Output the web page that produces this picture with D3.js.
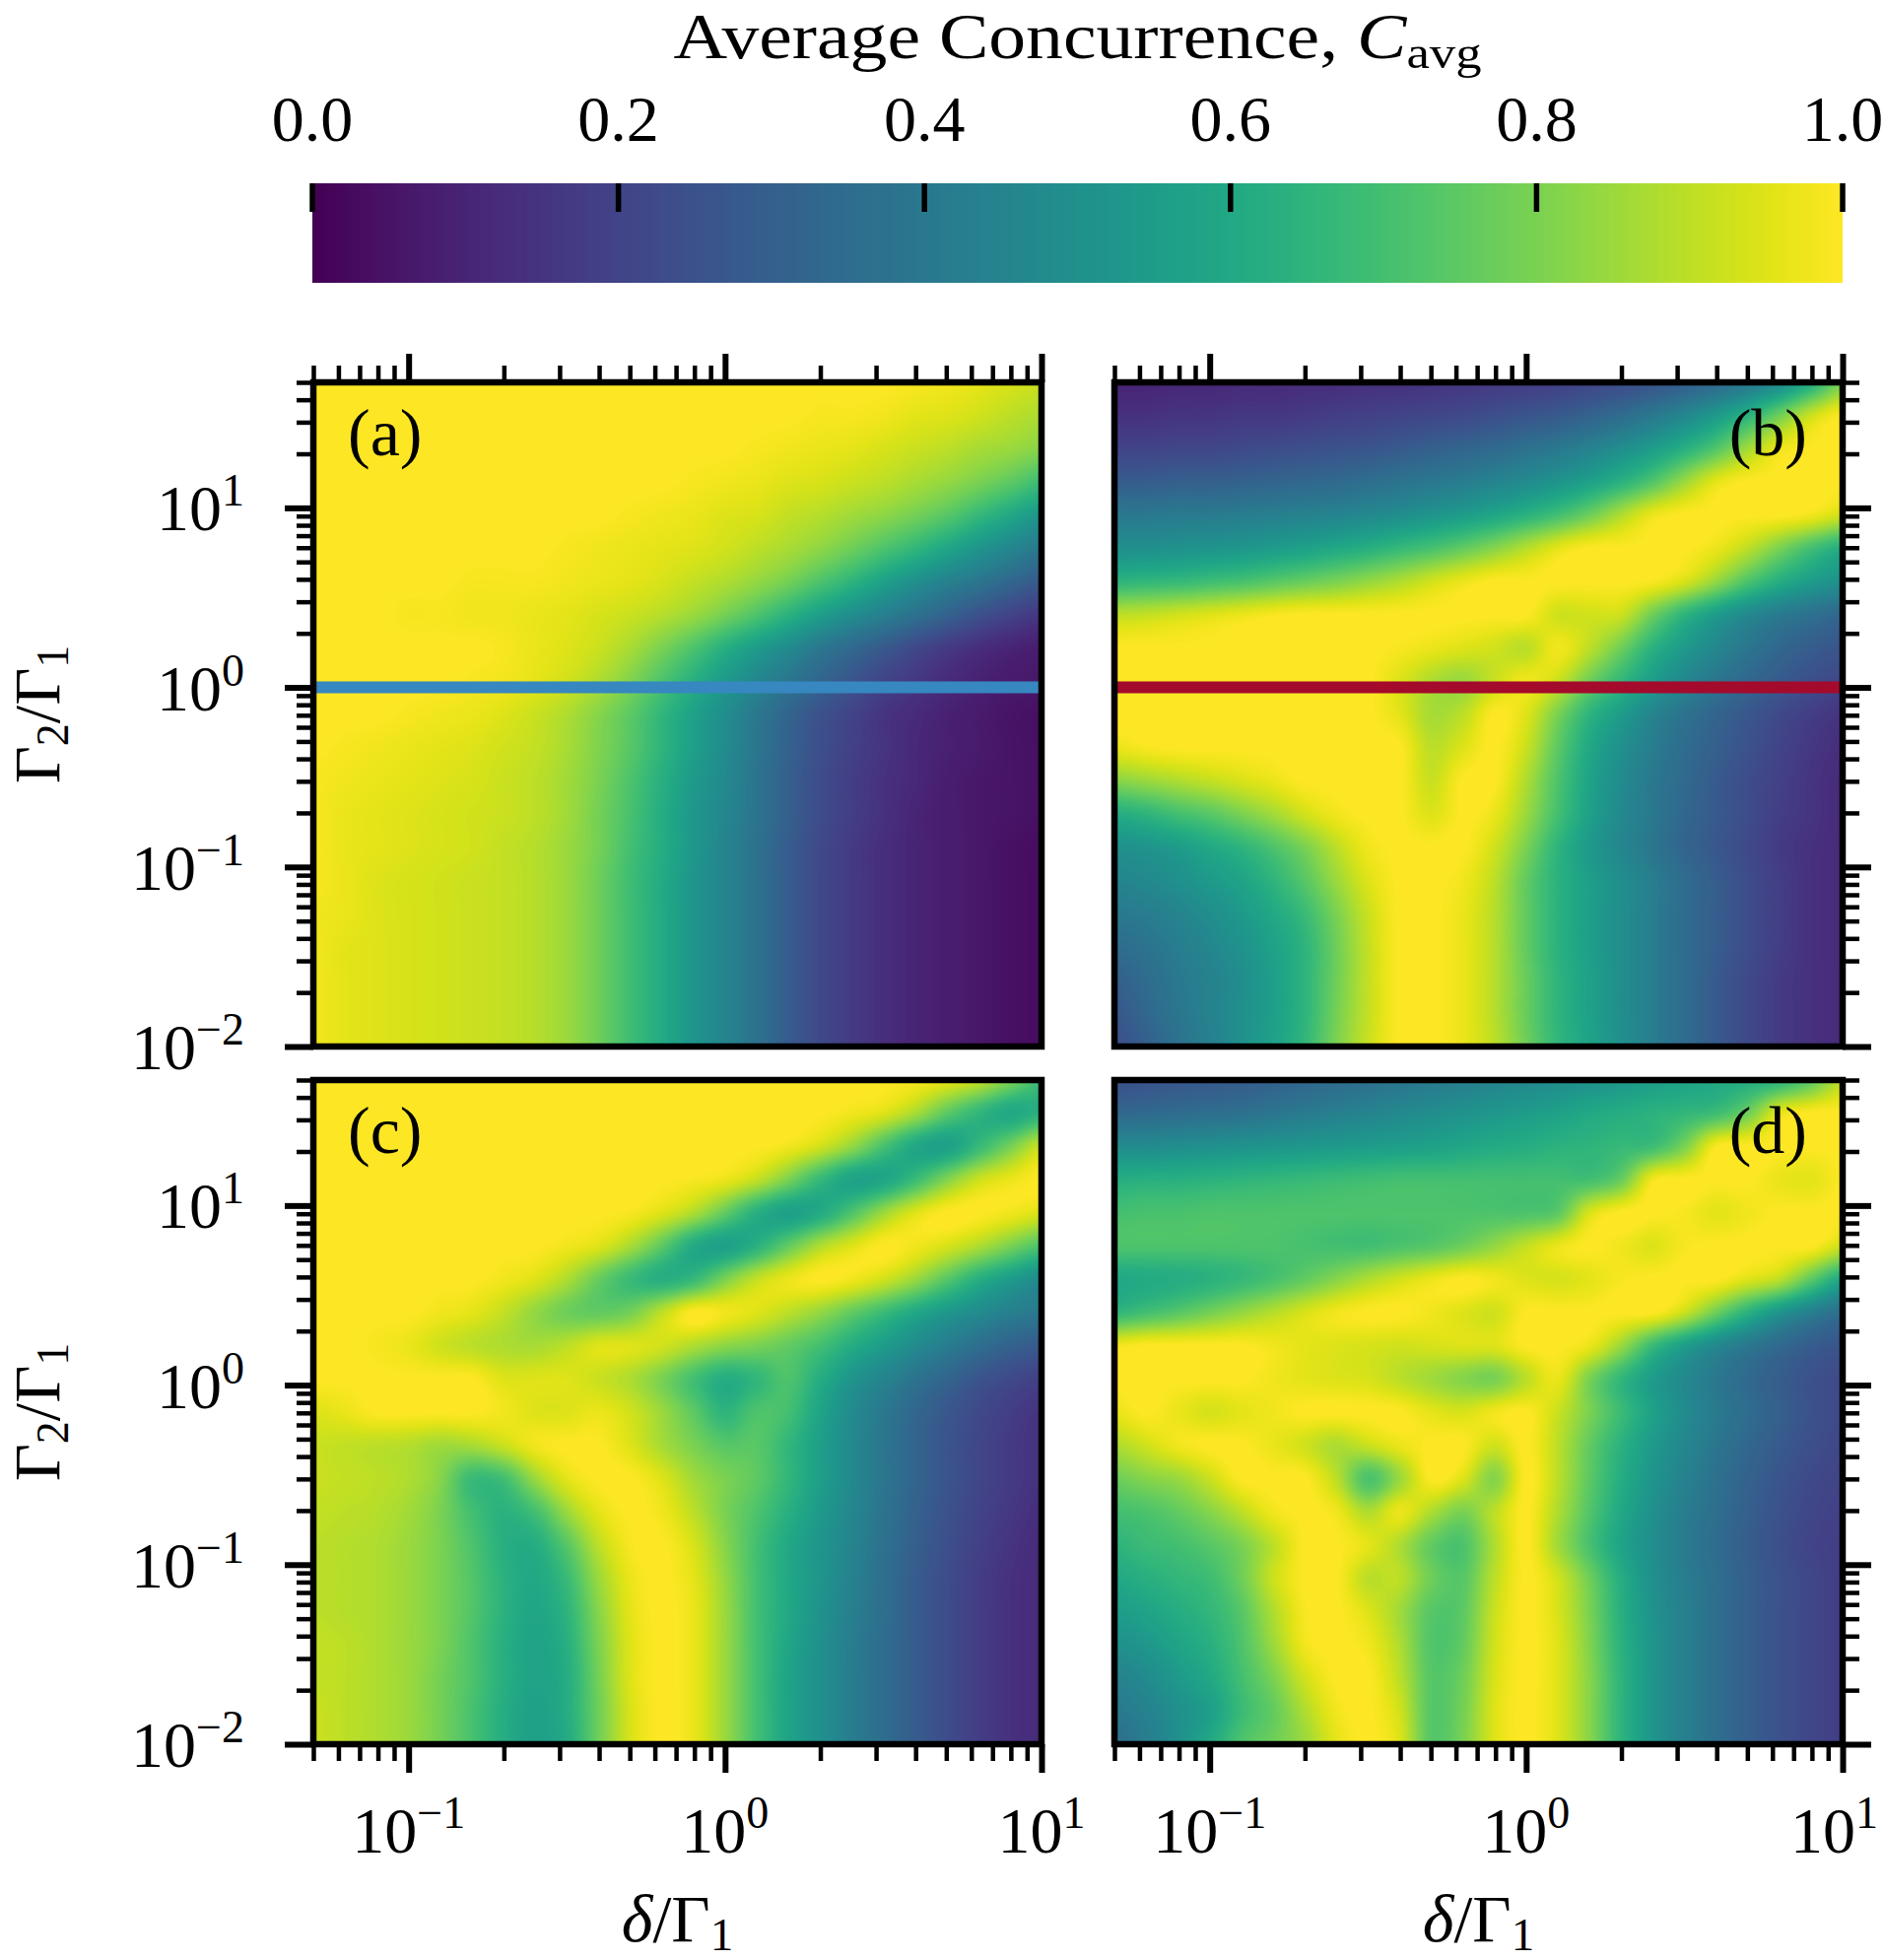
<!DOCTYPE html>
<html>
<head>
<meta charset="utf-8">
<script src="https://cdn.jsdelivr.net/npm/d3@7"></script>
<style>
  body { margin: 0; background: #fff; }
  text { font-family: "Liberation Serif", "Times New Roman", serif; fill: #000; }
</style>
</head>
<body>
<svg id="fig" width="1912" height="1989"></svg>
<script>
const deltaLog = [-1.3,-1.2,-1.1,-1.0,-0.9,-0.8,-0.7,-0.6,-0.5,-0.4,-0.3,-0.2,-0.1,0.0,0.1,0.2,0.3,0.4,0.5,0.6,0.7,0.8,0.9,1.0];
const gammaLog = [1.7,1.515,1.33,1.145,0.96,0.775,0.59,0.405,0.22,0.035,-0.15,-0.335,-0.52,-0.705,-0.89,-1.075,-1.26,-1.445,-1.63,-1.815,-2.0];

// average concurrence, one row per gammaLog node, one column per deltaLog node
const concA = [
  [1,1,1,1,1,1,1,1,1,1,1,1,1,1,1,1,1,1,1,.99,.98,.96,.94,.92],
  [1,1,1,1,1,1,1,1,1,1,1,1,1,1,1,1,.99,.99,.98,.96,.95,.93,.9,.88],
  [1,1,1,1,1,1,1,1,1,1,1,1,1,1,.99,.98,.97,.96,.94,.92,.9,.87,.85,.82],
  [1,1,1,1,1,1,1,1,1,1,1,1,.99,.98,.97,.95,.94,.92,.9,.87,.84,.8,.75,.69],
  [1,1,1,1,1,1,1,1,1,1,.99,.98,.97,.95,.94,.91,.89,.86,.83,.79,.74,.67,.6,.53],
  [1,1,1,1,1,1,1,1,.99,.98,.97,.96,.95,.93,.9,.87,.83,.78,.72,.66,.59,.52,.46,.4],
  [1,1,1,1,1,.99,.99,.99,.98,.97,.96,.94,.91,.88,.84,.79,.72,.65,.57,.5,.44,.39,.33,.28],
  [1,1,1,.99,.99,.98,.98,.97,.96,.94,.92,.89,.85,.79,.72,.64,.56,.49,.43,.37,.31,.25,.2,.16],
  [1,1,1,1,1,1,.99,.97,.95,.92,.87,.8,.72,.63,.55,.48,.4,.34,.28,.22,.17,.13,.1,.08],
  [1,1,1,1,1,.99,.98,.96,.93,.88,.81,.72,.63,.54,.46,.39,.32,.26,.2,.16,.12,.09,.07,.06],
  [1,1,1,.99,.98,.97,.95,.92,.88,.82,.75,.66,.57,.49,.4,.32,.25,.2,.15,.12,.09,.07,.05,.04],
  [1,.99,.98,.97,.96,.95,.93,.91,.87,.81,.74,.65,.56,.48,.39,.31,.24,.19,.15,.11,.09,.07,.05,.04],
  [.99,.98,.97,.96,.95,.94,.92,.9,.86,.8,.72,.63,.54,.47,.38,.3,.23,.18,.14,.11,.08,.06,.05,.04],
  [.99,.97,.96,.95,.94,.93,.92,.9,.86,.79,.71,.62,.53,.46,.38,.3,.23,.18,.14,.1,.08,.06,.05,.04],
  [.99,.97,.96,.95,.94,.93,.91,.89,.85,.79,.7,.62,.53,.45,.37,.29,.22,.17,.13,.1,.08,.06,.04,.03],
  [.99,.97,.95,.94,.93,.92,.91,.89,.85,.78,.69,.61,.52,.45,.37,.29,.22,.17,.13,.1,.08,.06,.04,.03],
  [.98,.97,.95,.94,.93,.92,.91,.89,.85,.78,.69,.61,.52,.45,.37,.29,.22,.17,.13,.1,.08,.06,.04,.03],
  [.98,.96,.95,.94,.93,.92,.91,.89,.85,.78,.69,.61,.52,.45,.37,.29,.22,.17,.13,.1,.08,.06,.04,.03],
  [.98,.96,.95,.94,.93,.92,.91,.89,.85,.78,.69,.61,.52,.45,.37,.29,.22,.17,.13,.1,.08,.06,.04,.03],
  [.98,.96,.95,.94,.93,.92,.91,.89,.85,.78,.69,.61,.52,.45,.37,.29,.22,.17,.13,.1,.08,.06,.04,.03],
  [.98,.96,.95,.94,.93,.92,.91,.89,.85,.78,.69,.61,.52,.45,.37,.29,.22,.17,.13,.1,.08,.06,.04,.03]
];

const concB = [
  [.10,.10,.11,.11,.12,.12,.13,.13,.14,.14,.15,.16,.17,.18,.19,.21,.23,.26,.30,.34,.40,.48,.62,.80],
  [.14,.14,.15,.15,.16,.16,.17,.18,.19,.20,.21,.22,.24,.26,.28,.31,.35,.40,.46,.54,.64,.78,.92,1],
  [.20,.20,.21,.21,.22,.23,.24,.25,.26,.28,.30,.32,.34,.37,.40,.44,.49,.55,.63,.73,.86,.97,1,1],
  [.29,.29,.30,.30,.31,.32,.33,.34,.36,.38,.40,.42,.45,.48,.52,.57,.64,.73,.85,.96,1,1,1,1],
  [.40,.40,.41,.41,.42,.43,.44,.45,.47,.49,.52,.55,.59,.64,.70,.78,.88,.97,1,1,1,1,.98,.93],
  [.50,.50,.51,.52,.53,.55,.57,.60,.63,.67,.71,.76,.82,.89,.96,1,1,1,1,.97,.90,.80,.70,.62],
  [.65,.66,.67,.69,.71,.74,.77,.80,.84,.88,.93,.97,1,1,1,1,1,.99,.94,.84,.72,.62,.55,.50],
  [.90,.91,.93,.95,.97,.99,1,1,1,1,1,1,1,1,.93,.93,.92,.78,.65,.55,.47,.41,.37,.33],
  [1,1,1,1,1,1,1,1,1,.99,.97,.95,.93,.9,.98,.9,.78,.64,.54,.46,.39,.33,.29,.26],
  [1,1,1,1,1,1,1,1,1,.95,.88,.85,.92,.98,.92,.78,.66,.55,.46,.39,.33,.28,.24,.21],
  [1,1,1,1,1,1,1,1,1,.96,.87,.9,1,.95,.8,.65,.55,.45,.38,.32,.27,.22,.18,.15],
  [.97,.99,1,1,1,1,1,1,1,1,.9,.95,1,.92,.75,.6,.5,.42,.35,.3,.25,.2,.16,.13],
  [.82,.85,.88,.91,.94,.97,1,1,1,1,.92,1,1,.88,.72,.58,.48,.4,.34,.28,.23,.19,.15,.12],
  [.62,.65,.7,.74,.8,.86,.93,.98,1,1,.95,1,.97,.85,.7,.57,.47,.4,.33,.28,.23,.18,.15,.12],
  [.5,.52,.55,.6,.65,.72,.8,.9,.98,1,1,1,.93,.8,.65,.54,.46,.39,.32,.27,.22,.17,.14,.12],
  [.45,.47,.5,.54,.58,.65,.74,.85,.95,1,1,.98,.9,.76,.64,.56,.49,.42,.35,.29,.23,.18,.14,.12],
  [.4,.42,.45,.49,.54,.6,.68,.8,.92,1,1,.97,.89,.76,.64,.56,.49,.42,.35,.29,.23,.18,.14,.12],
  [.35,.38,.42,.46,.51,.57,.65,.78,.91,1,1,.97,.89,.76,.64,.56,.49,.42,.35,.29,.23,.18,.14,.12],
  [.3,.35,.4,.44,.49,.56,.65,.78,.91,1,1,.97,.89,.77,.65,.57,.49,.42,.35,.28,.22,.17,.14,.12],
  [.27,.33,.39,.44,.5,.56,.65,.79,.91,1,1,.97,.89,.77,.65,.57,.49,.42,.35,.28,.22,.17,.14,.12],
  [.24,.3,.37,.43,.5,.57,.66,.8,.92,1,1,.97,.9,.78,.66,.58,.5,.42,.35,.28,.22,.17,.14,.12]
];

const concC = [
  [1,1,1,1,1,1,1,1,1,1,1,1,1,1,1,1,1,1,1,.99,.96,.91,.8,.68],
  [1,1,1,1,1,1,1,1,1,1,1,1,1,1,1,1,1,.98,.95,.87,.75,.66,.6,.64],
  [1,1,1,1,1,1,1,1,1,1,1,1,1,1,1,.98,.93,.84,.71,.6,.57,.67,.79,.92],
  [1,1,1,1,1,1,1,1,1,1,1,1,.99,.97,.91,.8,.67,.58,.59,.68,.81,.92,.97,1],
  [1,1,1,1,1,1,1,1,1,1,.99,.95,.88,.76,.63,.57,.61,.72,.85,.95,1,1,.98,.95],
  [1,1,1,1,1,1,1,1,.98,.95,.87,.75,.61,.57,.64,.76,.88,.95,1,.98,.94,.88,.8,.72],
  [1,1,1,1,1,1,.98,.95,.88,.77,.68,.63,.67,.8,.91,.97,1,.98,.93,.85,.74,.63,.55,.48],
  [1,1,1,1,.98,.96,.91,.84,.78,.76,.79,.9,1,.98,.95,.9,.84,.76,.68,.6,.53,.48,.43,.4],
  [1,1,.99,.97,.93,.9,.88,.87,.9,.95,.95,.93,.88,.83,.8,.76,.7,.62,.55,.48,.42,.36,.31,.28],
  [1,1,1,1,1,1,.95,.95,.95,.92,.88,.8,.7,.62,.66,.72,.62,.52,.45,.38,.32,.26,.22,.19],
  [.95,.97,1,1,1,1,.98,.95,.95,.97,.93,.85,.75,.65,.72,.7,.58,.48,.4,.33,.27,.22,.18,.15],
  [.92,.91,.9,.89,.86,.87,.92,.98,1,1,.95,.87,.8,.74,.74,.66,.56,.47,.39,.32,.26,.21,.17,.14],
  [.92,.91,.9,.88,.82,.68,.7,.85,.96,1,1,.95,.86,.8,.75,.66,.56,.47,.39,.32,.26,.21,.17,.14],
  [.91,.9,.89,.86,.8,.7,.64,.7,.85,.96,1,.98,.9,.8,.72,.63,.54,.46,.38,.31,.25,.2,.16,.13],
  [.9,.89,.88,.85,.8,.72,.63,.62,.74,.9,.99,1,.94,.82,.7,.6,.52,.45,.37,.3,.24,.19,.15,.12],
  [.9,.89,.88,.85,.8,.73,.64,.6,.68,.85,.97,1,.96,.84,.7,.6,.52,.44,.36,.29,.23,.18,.14,.12],
  [.9,.89,.88,.85,.8,.73,.64,.59,.65,.82,.96,1,.97,.85,.7,.6,.51,.43,.36,.29,.23,.18,.14,.12],
  [.91,.9,.88,.85,.8,.72,.63,.58,.63,.8,.95,1,.97,.85,.7,.59,.5,.42,.35,.29,.23,.18,.14,.12],
  [.91,.9,.88,.85,.79,.72,.63,.58,.62,.79,.95,1,.97,.85,.7,.58,.5,.42,.35,.29,.23,.18,.14,.12],
  [.92,.9,.88,.85,.79,.71,.62,.57,.62,.78,.94,1,.97,.85,.7,.58,.5,.42,.35,.29,.23,.18,.14,.12],
  [.92,.9,.88,.85,.79,.71,.62,.57,.61,.78,.94,1,.97,.85,.7,.58,.5,.42,.35,.29,.23,.18,.14,.12]
];

const concD = [
  [.25,.26,.27,.28,.29,.31,.33,.35,.37,.39,.41,.43,.45,.47,.49,.51,.53,.56,.58,.6,.62,.65,.75,.91],
  [.33,.34,.35,.36,.37,.39,.41,.43,.45,.47,.49,.51,.53,.55,.57,.6,.62,.64,.66,.69,.78,.96,1,1],
  [.48,.48,.49,.5,.51,.52,.53,.54,.55,.56,.57,.59,.61,.62,.64,.65,.67,.69,.8,.99,1,1,1,1],
  [.62,.63,.63,.64,.65,.66,.67,.68,.69,.7,.7,.7,.7,.7,.7,.7,.77,.98,1,1,1,.97,.96,1],
  [.7,.71,.71,.72,.72,.72,.72,.72,.72,.72,.72,.72,.72,.72,.75,.94,1,1,.99,.96,.98,1,1,1],
  [.72,.72,.72,.72,.72,.72,.71,.7,.7,.72,.74,.78,.84,.91,.97,1,.98,.95,.99,1,1,1,1,.93],
  [.6,.61,.62,.64,.67,.71,.76,.82,.88,.93,.97,1,.98,.95,.94,.96,.99,1,1,1,.95,.9,.75,.6],
  [.66,.7,.74,.79,.84,.89,.94,.98,1,1,.98,.95,.93,1,1,1,1,1,.92,.78,.64,.52,.43,.36],
  [.98,1,1,1,1,.98,.96,.95,.94,.93,.94,.95,.95,1,1,.97,.85,.68,.56,.47,.4,.34,.29,.26],
  [1,1,1,1,1,.98,.96,.95,.94,.9,.86,.82,.8,.9,.97,.8,.66,.55,.47,.4,.34,.29,.25,.22],
  [.97,1,.97,.94,.96,.98,1,1,1,1,.96,.94,.98,1,.92,.8,.68,.57,.48,.41,.35,.3,.25,.22],
  [.88,.93,.98,1,1,.97,.93,.88,.92,.97,1,1,.93,1,.9,.76,.64,.54,.46,.39,.33,.28,.24,.21],
  [.78,.82,.85,.92,1,1,1,.9,.72,.85,1,.95,.82,1,.9,.75,.62,.52,.44,.37,.31,.26,.22,.2],
  [.7,.72,.76,.82,.9,.98,1,.98,.88,.97,.88,.8,.9,1,.88,.73,.6,.5,.42,.36,.3,.25,.21,.19],
  [.65,.68,.7,.74,.8,.9,1,1,.96,.88,.76,.72,.88,1,.86,.71,.58,.49,.41,.35,.29,.24,.2,.18],
  [.6,.63,.66,.69,.78,.92,1,1,.9,.9,.78,.74,.9,1,.93,.78,.62,.5,.42,.36,.3,.25,.21,.18],
  [.55,.58,.62,.66,.74,.88,.99,1,.95,.86,.74,.75,.92,1,.94,.8,.63,.51,.43,.36,.3,.25,.21,.18],
  [.5,.53,.58,.63,.72,.85,.98,1,.98,.88,.73,.76,.93,1,.95,.81,.64,.52,.43,.36,.3,.25,.21,.18],
  [.44,.48,.54,.6,.7,.8,.93,1,1,.9,.74,.78,.94,1,.95,.82,.65,.52,.43,.36,.3,.25,.21,.18],
  [.4,.44,.5,.56,.68,.76,.88,.98,1,.93,.74,.79,.95,1,.95,.82,.65,.52,.43,.36,.3,.25,.21,.18],
  [.36,.42,.5,.6,.72,.78,.85,.96,1,.95,.74,.8,.95,1,.95,.82,.65,.52,.43,.36,.3,.25,.21,.18]
];

const panelGrids = [concA, concB, concC, concD];
const panelTags = ["(a)", "(b)", "(c)", "(d)"];
const cutLines = [{ panel: 0, gamma: 1, color: "#3787c0" }, { panel: 1, gamma: 1, color: "#a40a2c" }];

const cbarTicks = [0, 0.2, 0.4, 0.6, 0.8, 1.0];
const cbarLabels = ["0.0", "0.2", "0.4", "0.6", "0.8", "1.0"];
const xMajor = [0.1, 1, 10];
const xMajorExp = ["\u22121", "0", "1"];
const xMinor = [0.05,0.06,0.07,0.08,0.09,0.2,0.3,0.4,0.5,0.6,0.7,0.8,0.9,2,3,4,5,6,7,8,9];
const yMajor = [0.01, 0.1, 1, 10];
const yMajorExp = ["\u22122", "\u22121", "0", "1"];
const yMinor = [0.02,0.03,0.04,0.05,0.06,0.07,0.08,0.09,0.2,0.3,0.4,0.5,0.6,0.7,0.8,0.9,2,3,4,5,6,7,8,9,20,30,40,50];

// layout
const figW = 1912;
const colSpan = [[318, 1057], [1131, 1870]];
const rowSpan = [[388, 1062], [1096, 1770]];
const bigFont = 68, tickFont = 66, supFont = 46;

const svg = d3.select("#fig");
const lut = d3.range(256).map(k => d3.rgb(d3.interpolateViridis(k / 255)));

function fracIndex(arr, val) {
    const n = arr.length;
    if (val <= arr[0]) return 0;
    if (val >= arr[n - 1]) return n - 1;
    const k = d3.bisectRight(arr, val) - 1;
    return k + (val - arr[k]) / (arr[k + 1] - arr[k]);
}

function cubic(p0, p1, p2, p3, t) {
    return 0.5 * (2 * p1 + (p2 - p0) * t + (2 * p0 - 5 * p1 + 4 * p2 - p3) * t * t + (3 * p1 - p0 - 3 * p2 + p3) * t * t * t);
}

function stencil(f, n) {
    const i1 = Math.min(Math.floor(f), n - 2);
    const t = f - i1;
    return { idx: [Math.max(i1 - 1, 0), i1, i1 + 1, Math.min(i1 + 2, n - 1)], t };
}

function drawHeat(g, grid, x, y) {
    const [x0, x1] = x.range();
    const [yb, yt] = y.range();
    const w = Math.round(x1 - x0), h = Math.round(yb - yt);
    const canvas = document.createElement("canvas");
    canvas.width = w;
    canvas.height = h;
    const ctx = canvas.getContext("2d");
    const img = ctx.createImageData(w, h);
    const gammaAsc = gammaLog.slice().reverse();
    const nr = gammaLog.length, nc = deltaLog.length;

    const colSt = d3.range(w).map(px => stencil(fracIndex(deltaLog, Math.log10(x.invert(x0 + px + 0.5))), nc));
    for (let py = 0; py < h; py++) {
        const v = Math.log10(y.invert(yt + py + 0.5));
        const rs = stencil((nr - 1) - fracIndex(gammaAsc, v), nr);
        const rowVals = d3.range(nc).map(i => cubic(grid[rs.idx[0]][i], grid[rs.idx[1]][i], grid[rs.idx[2]][i], grid[rs.idx[3]][i], rs.t));
        for (let px = 0; px < w; px++) {
            const cs = colSt[px];
            let c = cubic(rowVals[cs.idx[0]], rowVals[cs.idx[1]], rowVals[cs.idx[2]], rowVals[cs.idx[3]], cs.t);
            c = Math.max(0, Math.min(1, c));
            const col = lut[Math.round(c * 255)];
            const o = (py * w + px) * 4;
            img.data[o] = col.r;
            img.data[o + 1] = col.g;
            img.data[o + 2] = col.b;
            img.data[o + 3] = 255;
        }
    }
    ctx.putImageData(img, 0, 0);
    g.append("image")
        .attr("x", x0).attr("y", yt)
        .attr("width", w).attr("height", h)
        .attr("preserveAspectRatio", "none")
        .attr("href", canvas.toDataURL());
}

function addTicks(g, axisFn, scale, values, size, width, transform) {
    g.append("g")
        .attr("transform", transform)
        .call(axisFn(scale).tickValues(values).tickSize(size).tickFormat(""))
        .call(s => s.select(".domain").remove())
        .call(s => s.selectAll("text").remove())
        .call(s => s.selectAll("line").attr("stroke", "#000").attr("stroke-width", width));
}

// ---- colour bar ----
const cScale = d3.scaleLinear().domain([0, 1]).range([317, 1870]);
const cbTop = 186, cbBottom = 287;
{
    const w = Math.round(cScale(1) - cScale(0));
    const canvas = document.createElement("canvas");
    canvas.width = w;
    canvas.height = 1;
    const ctx = canvas.getContext("2d");
    for (let i = 0; i < w; i++) {
        ctx.fillStyle = d3.interpolateViridis(cScale.invert(cScale(0) + i + 0.5));
        ctx.fillRect(i, 0, 1, 1);
    }
    svg.append("image")
        .attr("x", cScale(0)).attr("y", cbTop)
        .attr("width", w).attr("height", cbBottom - cbTop)
        .attr("preserveAspectRatio", "none")
        .attr("href", canvas.toDataURL());

    svg.append("g").selectAll("line")
        .data(cbarTicks)
        .enter()
        .append("line")
        .attr("x1", d => cScale(d)).attr("x2", d => cScale(d))
        .attr("y1", cbTop).attr("y2", cbTop + 29)
        .attr("stroke", "#000").attr("stroke-width", 5.5);

    svg.append("g").selectAll("text")
        .data(cbarTicks)
        .enter()
        .append("text")
        .attr("x", d => cScale(d)).attr("y", 143)
        .attr("text-anchor", "middle")
        .attr("font-size", tickFont)
        .text((d, i) => cbarLabels[i]);

    const title = svg.append("text")
        .attr("x", (cScale(0) + cScale(1)) / 2).attr("y", 59)
        .attr("text-anchor", "middle")
        .attr("font-size", 66)
        .attr("textLength", 820)
        .attr("lengthAdjust", "spacingAndGlyphs");
    title.append("tspan").text("Average Concurrence, ");
    title.append("tspan").attr("font-style", "italic").text("C");
    title.append("tspan").attr("font-size", 46).attr("dy", 10).text("avg");
}

// ---- panels ----
panelGrids.forEach((grid, k) => {
    const ci = k % 2, ri = Math.floor(k / 2);
    const [x0, x1] = colSpan[ci];
    const [y0, y1] = rowSpan[ri];
    const x = d3.scaleLog().domain([0.05, 10]).range([x0, x1]);
    const y = d3.scaleLog().domain([0.01, 50]).range([y1, y0]);
    const g = svg.append("g");

    drawHeat(g, grid, x, y);

    cutLines.filter(c => c.panel === k).forEach(c => {
        g.append("line")
            .attr("x1", x0).attr("x2", x1)
            .attr("y1", y(c.gamma)).attr("y2", y(c.gamma))
            .attr("stroke", c.color).attr("stroke-width", 12);
    });

    // ticks only on the outer sides of the grid
    if (ri === 0) {
        addTicks(g, d3.axisTop, x, xMajor, 29, 6, `translate(0,${y0})`);
        addTicks(g, d3.axisTop, x, xMinor, 17, 4.5, `translate(0,${y0})`);
    } else {
        addTicks(g, d3.axisBottom, x, xMajor, 29, 6, `translate(0,${y1})`);
        addTicks(g, d3.axisBottom, x, xMinor, 17, 4.5, `translate(0,${y1})`);
        xMajor.forEach((v, i) => {
            const t = g.append("text")
                .attr("x", x(v)).attr("y", 1880)
                .attr("text-anchor", "middle")
                .attr("font-size", tickFont);
            t.append("tspan").text("10");
            t.append("tspan").attr("font-size", supFont).attr("dy", -25).text(xMajorExp[i]);
            // keep the last label inside the figure
            const bb = t.node().getBBox();
            if (bb.x + bb.width > figW - 6) t.attr("x", x(v) - (bb.x + bb.width - (figW - 6)));
        });
        const xl = g.append("text")
            .attr("x", (x0 + x1) / 2).attr("y", 1970)
            .attr("text-anchor", "middle")
            .attr("font-size", bigFont);
        xl.append("tspan").attr("font-style", "italic").text("\u03b4");
        xl.append("tspan").text("/\u0393");
        xl.append("tspan").attr("font-size", 47).attr("dy", 9).text("1");
    }
    if (ci === 0) {
        addTicks(g, d3.axisLeft, y, yMajor, 29, 6, `translate(${x0},0)`);
        addTicks(g, d3.axisLeft, y, yMinor, 17, 4.5, `translate(${x0},0)`);
        yMajor.forEach((v, i) => {
            const t = g.append("text")
                .attr("x", 248).attr("y", y(v) + 23)
                .attr("text-anchor", "end")
                .attr("font-size", tickFont);
            t.append("tspan").text("10");
            t.append("tspan").attr("font-size", supFont).attr("dy", -25).text(yMajorExp[i]);
        });
        const yl = g.append("text")
            .attr("transform", `translate(60,${(y0 + y1) / 2}) rotate(-90)`)
            .attr("text-anchor", "middle")
            .attr("font-size", 66);
        yl.append("tspan").text("\u0393");
        yl.append("tspan").attr("font-size", 46).attr("dy", 9).text("2");
        yl.append("tspan").attr("dy", -9).text("/\u0393");
        yl.append("tspan").attr("font-size", 46).attr("dy", 9).text("1");
    } else {
        addTicks(g, d3.axisRight, y, yMajor, 29, 6, `translate(${x1},0)`);
        addTicks(g, d3.axisRight, y, yMinor, 17, 4.5, `translate(${x1},0)`);
    }

    g.append("rect")
        .attr("x", x0).attr("y", y0)
        .attr("width", x1 - x0).attr("height", y1 - y0)
        .attr("fill", "none").attr("stroke", "#000").attr("stroke-width", 6.5);

    const left = ci === 0;
    g.append("text")
        .attr("x", left ? x0 + 35 : x1 - 36)
        .attr("y", y0 + 74)
        .attr("text-anchor", left ? "start" : "end")
        .attr("font-size", bigFont)
        .text(panelTags[k]);
});
</script>
</body>
</html>
